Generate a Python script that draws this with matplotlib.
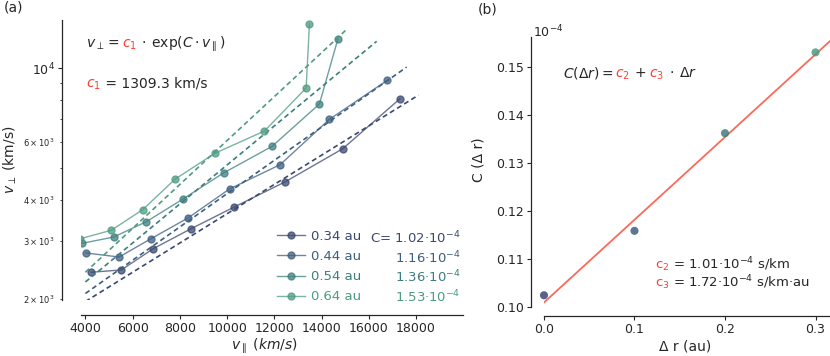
import numpy as np
import matplotlib
matplotlib.use("Agg")
import matplotlib.pyplot as plt
from matplotlib import transforms as mtransforms
from matplotlib.ticker import FormatStrFormatter

# ---- data ----
labels = ["0.34 au", "0.44 au", "0.54 au", "0.64 au"]
C_text = ["C= 1.02·10$^{-4}$", "1.16·10$^{-4}$", "1.36·10$^{-4}$", "1.53·10$^{-4}$"]
C_fit = [1.02e-4, 1.16e-4, 1.36e-4, 1.53e-4]
c1 = 1309.3
fit_start = [4000, 4000, 4000, 4000]
fit_end = [18100, 17600, 16330, 15020]

vpar_034 = [4241, 5522, 6875, 8452, 10300, 12469, 14896, 17319]
vperp_034 = [2414, 2454, 2846, 3264, 3804, 4538, 5710, 8092]
vpar_044 = [4013, 5425, 6778, 8342, 10101, 12245, 14330, 16782]
vperp_044 = [2762, 2685, 3050, 3524, 4314, 5110, 7008, 9200]
vpar_054 = [3873, 5197, 6579, 8114, 9848, 11907, 13907, 14685]
vperp_054 = [2955, 3086, 3434, 4015, 4822, 5808, 7798, 12236]
vpar_064 = [3789, 5099, 6423, 7805, 9484, 11581, 13345, 13484]
vperp_064 = [3050, 3236, 3733, 4624, 5531, 6461, 8716, 13614]

delta_r = [0.0, 0.1, 0.2, 0.3]
C_scaled = [0.1025, 0.1159, 0.1362, 0.1530]
c2 = 0.101
c3 = 0.172

colors = ["#3b4870", "#3e5f7f", "#3f7e7e", "#4f9b80"]
red = "#ff3b30"
line_red = "#fa6a5a"
txt = "#262626"


def color_text(ax, x, y, parts, size):
    fig = ax.figure
    r = fig.canvas.get_renderer()
    tr = ax.transAxes
    for s, col in parts:
        t = ax.text(x, y, s, color=col, fontsize=size, transform=tr, va="baseline")
        w = t.get_window_extent(renderer=r).width
        tr = mtransforms.offset_copy(t.get_transform(), x=w, units="dots")


def style(ax, left_out, bottom_out):
    for s in ["top", "right"]:
        ax.spines[s].set_visible(False)
    ax.spines["left"].set_position(("outward", left_out))
    ax.spines["bottom"].set_position(("outward", bottom_out))
    for s in ["left", "bottom"]:
        ax.spines[s].set_color(txt)
        ax.spines[s].set_linewidth(0.9)
    ax.tick_params(which="major", length=2.6, width=0.8, pad=2.4, labelsize=9, colors=txt)
    ax.tick_params(which="minor", length=1.6, width=0.6, colors=txt)


plt.rcParams["mathtext.fontset"] = "dejavusans"
fig = plt.figure(figsize=(8.3, 3.56), dpi=100)
ax1 = fig.add_axes([0.0972, 0.1573, 0.4602, 0.7865])
ax2 = fig.add_axes([0.6554, 0.1368, 0.3446, 0.7593])

# ---- panel (a) ----
xs = [vpar_034, vpar_044, vpar_054, vpar_064]
ys = [vperp_034, vperp_044, vperp_054, vperp_064]
for i in range(4):
    ax1.plot(xs[i], ys[i], "-", color=colors[i], lw=1.0, alpha=0.75,
             marker="o", ms=5, mfc=colors[i], mec=colors[i], label=labels[i])
    vv = np.linspace(fit_start[i], fit_end[i], 50)
    ax1.plot(vv, c1 * np.exp(C_fit[i] * vv), color=colors[i], lw=1.2,
             dashes=(3, 2))

ax1.set_yscale("log")
ax1.set_xlim(3800, 19970)
ax1.set_ylim(1990, 14000)
ax1.set_xticks(range(4000, 18001, 2000))
style(ax1, 13.5, 10.8)
ax1.tick_params(axis="y", which="minor", labelsize=6)
ax1.set_xlabel(r"$v_{\parallel}\ (km/s)$", fontsize=10, color=txt)
ax1.set_ylabel(r"$v_{\perp}$ (km/s)", fontsize=10, color=txt)
ax1.xaxis.set_label_coords(0.48, -0.13)
ax1.yaxis.set_label_coords(-0.162, 0.5)

leg = ax1.legend(loc="lower left", bbox_to_anchor=(0.515, -0.012), frameon=False,
                 fontsize=9.5, borderpad=0, borderaxespad=0, handlelength=2.1,
                 handletextpad=0.45, labelspacing=0.54)
for t, c in zip(leg.get_texts(), colors):
    t.set_color(c)
row_base = [0.2039, 0.1325, 0.0635, -0.0079]
for i in range(4):
    ax1.text(0.995, row_base[i], C_text[i], color=colors[i], fontsize=9.5,
             ha="right", va="baseline", transform=ax1.transAxes)

# ---- panel (b) ----
dr = np.linspace(0, 0.34, 10)
ax2.plot(dr, c2 + c3 * dr, color=line_red, lw=1.3)
for i in range(4):
    ax2.scatter(delta_r[i], C_scaled[i], s=34, color=colors[i], alpha=0.85,
                zorder=3, clip_on=False, edgecolor="none")
ax2.set_xlim(0, 0.316)
ax2.set_ylim(0.10, 0.1562)
ax2.set_xticks(delta_r)
ax2.set_yticks([0.10, 0.11, 0.12, 0.13, 0.14, 0.15])
ax2.xaxis.set_major_formatter(FormatStrFormatter("%.1f"))
ax2.yaxis.set_major_formatter(FormatStrFormatter("%.2f"))
style(ax2, 9.6, 6.0)
ax2.set_xlabel("Δ r (au)", fontsize=10, color=txt)
ax2.set_ylabel("C (Δ r)", fontsize=10, color=txt)
ax2.xaxis.set_label_coords(0.493, -0.118)
ax2.yaxis.set_label_coords(-0.206, 0.545)
ax2.text(-0.04, 1.0, "10$^{-4}$", fontsize=9, color=txt, transform=ax2.transAxes,
         ha="left", va="baseline")

fig.text(0.005, 0.979, "(a)", fontsize=10, color=txt, va="center")
fig.text(0.575, 0.972, "(b)", fontsize=10, color=txt, va="center")

color_text(ax1, 0.013, 0.902,
           [(r"$v_{\perp} =$", txt), (r"$\,c_1$", red),
            (r"$\,\cdot\,\exp(C\cdot v_{\parallel})$", txt)], 10)
color_text(ax1, 0.013, 0.760, [(r"$c_1$", red), (" = 1309.3 km/s", txt)], 10)
color_text(ax2, 0.065, 0.851,
           [(r"$C(\Delta r) =$", txt), (r"$\,c_2$", red), (r"$\,+$", txt),
            (r"$\,c_3$", red), (r"$\,\cdot\,\Delta r$", txt)], 10)
color_text(ax2, 0.388, 0.1406, [("c$_2$", red), (" = 1.01·10$^{-4}$ s/km", txt)], 9.5)
color_text(ax2, 0.388, 0.0762, [("c$_3$", red), (" = 1.72·10$^{-4}$ s/km·au", txt)], 9.5)

fig.savefig("out.png", dpi=100)
